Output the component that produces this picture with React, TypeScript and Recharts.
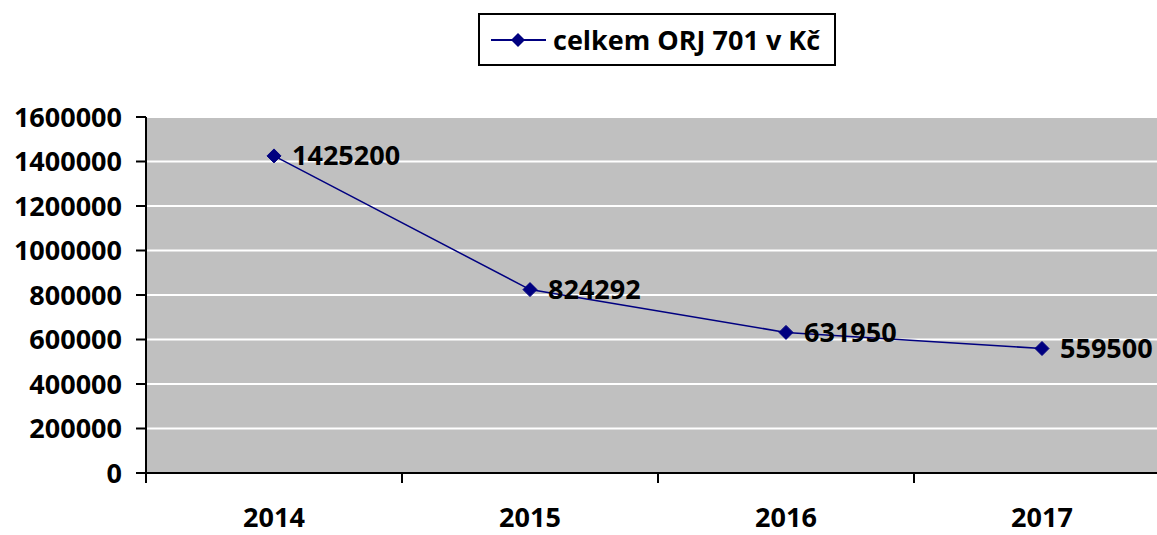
import { CartesianGrid, LabelList, Legend, Line, LineChart, XAxis, YAxis } from 'recharts';

const YEARS = ['2014', '2015', '2016', '2017'];
const VALUES = [1425200, 824292, 631950, 559500];
const Y_TICKS = [0, 200000, 400000, 600000, 800000, 1000000, 1200000, 1400000, 1600000];
const SERIES_NAME = 'celkem ORJ 701 v Kč';

// pos = middle of each year's slot, used by the boundary-tick axis
const data = YEARS.map((year, i) => ({ year, pos: i + 0.5, value: VALUES[i] }));
const boundaryTicks = Array.from({ length: YEARS.length + 1 }, (_, i) => i);

const FONT = '"Open Sans", "Liberation Sans", sans-serif';
const LINE_COLOR = '#000080';

function Diamond({ cx, cy }: { cx?: number; cy?: number }) {
  if (cx == null || cy == null) return null;
  const r = 7;
  return (
    <path
      d={`M${cx},${cy - r}L${cx + r},${cy}L${cx},${cy + r}L${cx - r},${cy}Z`}
      fill={LINE_COLOR}
      stroke={LINE_COLOR}
    />
  );
}

function LegendBox() {
  return (
    <div
      style={{
        width: 358,
        height: 53,
        boxSizing: 'border-box',
        border: '2px solid #000',
        background: '#fff',
        display: 'flex',
        alignItems: 'center',
        paddingLeft: 9,
        fontFamily: FONT,
        fontWeight: 700,
        fontSize: 27,
        color: '#000',
      }}
    >
      <svg width={60} height={20} style={{ marginRight: 4 }}>
        <line x1={2} y1={10} x2={57} y2={10} stroke={LINE_COLOR} strokeWidth={2} />
        <path d="M29,3L36,10L29,17L22,10Z" fill={LINE_COLOR} />
      </svg>
      <span style={{ whiteSpace: 'nowrap' }}>{SERIES_NAME}</span>
    </div>
  );
}

export default function App() {
  return (
    <div style={{ position: 'fixed', top: 0, left: 0, width: 1157, height: 535, overflow: 'hidden', background: '#fff' }}>
      <LineChart
        width={1200}
        height={535}
        data={data}
        margin={{ top: 117, right: 30, bottom: 0, left: 0 }}
        style={{ fontFamily: FONT }}
      >
        <CartesianGrid fill="#C0C0C0" stroke="#ffffff" strokeWidth={2} vertical={false} />
        <XAxis
          xAxisId="b"
          dataKey="year"
          scale="band"
          height={52}
          axisLine={false}
          tickLine={false}
          tickSize={0}
          tickMargin={25}
          interval={0}
          tick={{ fill: '#000', fontSize: 27, fontWeight: 700, fontFamily: FONT }}
        />
        <XAxis
          xAxisId="a"
          dataKey="pos"
          type="number"
          domain={[0, YEARS.length]}
          allowDataOverflow
          ticks={boundaryTicks}
          interval={0}
          tickFormatter={() => ''}
          height={10}
          tickSize={10}
          axisLine={{ stroke: '#000', strokeWidth: 2 }}
          tickLine={{ stroke: '#000', strokeWidth: 2 }}
        />
        <YAxis
          domain={[0, 1600000]}
          ticks={Y_TICKS}
          width={146}
          interval={0}
          tickSize={10}
          tickMargin={14}
          axisLine={{ stroke: '#000', strokeWidth: 2 }}
          tickLine={{ stroke: '#000', strokeWidth: 2 }}
          tick={{ fill: '#000', fontSize: 27, fontWeight: 700, fontFamily: FONT }}
        />
        <Legend
          layout="horizontal"
          verticalAlign="middle"
          align="center"
          content={() => <LegendBox />}
          wrapperStyle={{ top: 13, left: 478, width: 358 }}
        />
        <Line
          xAxisId="b"
          dataKey="value"
          name={SERIES_NAME}
          stroke={LINE_COLOR}
          strokeWidth={1.5}
          dot={<Diamond />}
          activeDot={false}
          isAnimationActive={false}
        >
          <LabelList
            dataKey="value"
            position="right"
            offset={18}
            fill="#000"
            fontSize={27}
            fontWeight={700}
            fontFamily={FONT}
          />
        </Line>
      </LineChart>
    </div>
  );
}
